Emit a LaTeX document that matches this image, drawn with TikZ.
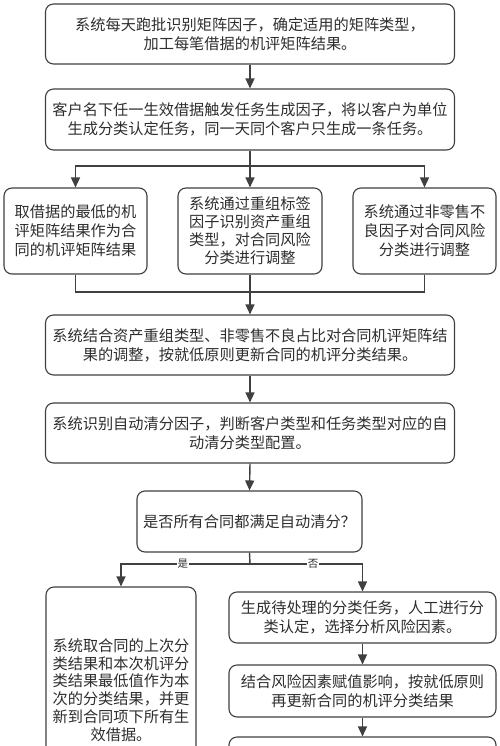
\documentclass[tikz,border=0pt]{standalone}
\usepackage{fontspec}
\setmainfont{Noto Sans CJK SC}
\usetikzlibrary{arrows.meta}
\definecolor{linec}{HTML}{404040}
\definecolor{txt}{HTML}{2e2e2e}
\begin{document}
\begin{tikzpicture}[x=1pt,y=-1pt,
  box/.style={draw=linec, line width=1.1pt, rounded corners=8pt, align=center,
    font=\fontsize{15.2}{19}\selectfont, text=txt, inner sep=2pt},
  conn/.style={draw=linec, line width=1.4pt},
  arr/.style={conn, -{Triangle[width=9pt,length=10pt]}},
  lab/.style={font=\fontsize{10.5}{11}\selectfont, fill=white, inner sep=1pt, text=txt}]
\useasboundingbox (0,0) rectangle (500,746);
\clip (0,0) rectangle (500,746);
\fill[white] (0,0) rectangle (500,746);

\node[box, minimum width=409pt, minimum height=60pt] (b1) at (250,34)
  {系统每天跑批识别矩阵因子，确定适用的矩阵类型，\\加工每笔借据的机评矩阵结果。};
\node[box, minimum width=409pt, minimum height=61pt] (b2) at (250,119.5)
  {客户名下任一生效借据触发任务生成因子，将以客户为单位\\生成分类认定任务，同一天同个客户只生成一条任务。};
\node[box, minimum width=143pt, minimum height=86pt] (bA) at (75.5,231)
  {取借据的最低的机\\评矩阵结果作为合\\同的机评矩阵结果};
\node[box, minimum width=144pt, minimum height=86pt, font=\fontsize{15.2}{18}\selectfont] (bB) at (250,231)
  {系统通过重组标签\\因子识别资产重组\\类型，对合同风险\\分类进行调整};
\node[box, minimum width=143pt, minimum height=86pt] (bC) at (424.5,231)
  {系统通过非零售不\\良因子对合同风险\\分类进行调整};
\node[box, minimum width=409pt, minimum height=60pt] (bD) at (250,345)
  {系统结合资产重组类型、非零售不良占比对合同机评矩阵结\\果的调整，按就低原则更新合同的机评分类结果。};
\node[box, minimum width=409pt, minimum height=60pt] (bE) at (250,433)
  {系统识别自动清分因子，判断客户类型和任务类型对应的自\\动清分类型配置。};
\node[box, minimum width=225pt, minimum height=61pt] (bF) at (249.5,521.5)
  {是否所有合同都满足自动清分？};
\node[box, minimum width=150pt, minimum height=206pt, font=\fontsize{15.2}{17.8}\selectfont] (bG) at (121,690)
  {系统取合同的上次分\\类结果和本次机评分\\类结果最低值作为本\\次的分类结果，并更\\新到合同项下所有生\\效借据。};
\node[box, minimum width=267pt, minimum height=51pt] (bH) at (362.5,617.5)
  {生成待处理的分类任务，人工进行分\\类认定，选择分析风险因素。};
\node[box, minimum width=267pt, minimum height=52pt] (bI) at (362.5,691)
  {结合风险因素赋值影响，按就低原则\\再更新合同的机评分类结果};
\node[box, minimum width=267pt, minimum height=52pt] (bJ) at (362.5,763) {};

\draw[arr] (b1.south) -- (b2.north);
\coordinate (s1) at (250,166);
\draw[conn] (b2.south) -- (s1);
\draw[arr] (s1) -| (bA.north);
\draw[arr] (s1) -- (bB.north);
\draw[arr] (s1) -| (bC.north);
\coordinate (m1) at (250,292);
\draw[conn] (bA.south) |- (m1);
\draw[conn] (bC.south) |- (m1);
\draw[arr] (bB.south) -- (bD.north);
\draw[arr] (bD.south) -- (bE.north);
\draw[arr] (bE.south) -- (bF.north);
\coordinate (br) at (250,564);
\draw[conn] (bF.south) -- (br);
\draw[arr] (br) -| node[lab, pos=0.26] {是} (bG.north);
\draw[arr] (br) -| node[lab, pos=0.28] {否} (bH.north);
\draw[arr] (bH.south) -- (bI.north);
\draw[arr] (bI.south) -- (bJ.north);
\end{tikzpicture}
\end{document}
